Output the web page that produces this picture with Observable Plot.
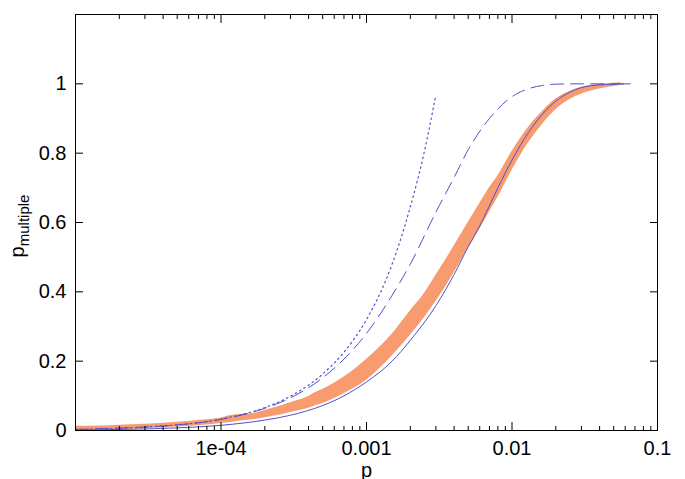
<!DOCTYPE html>
<html>
<head>
<meta charset="utf-8">
<script src="https://cdn.jsdelivr.net/npm/d3@7"></script>
<script src="https://cdn.jsdelivr.net/npm/@observablehq/plot@0.6"></script>
<style>
  html, body { margin: 0; padding: 0; background: white; }
  #chart { width: 685px; height: 479px; }
</style>
</head>
<body>
<div id="chart"></div>
<script>
// ---- tick labels ----
const xMajorTicks = [1e-5, 1e-4, 1e-3, 1e-2, 1e-1];
const xTickLabels = ["", "1e-04", "0.001", "0.01", "0.1"];
const yTicks = [0, 0.2, 0.4, 0.6, 0.8, 1];
const yTickLabels = ["0", "0.2", "0.4", "0.6", "0.8", "1"];

// ---- measured data (orange band: lower / upper edge) ----
const dataP    = [1e-5, 1.5e-5, 2e-5, 3e-5, 5e-5, 7e-5, 1e-4, 1.2e-4, 1.4e-4, 1.7e-4, 2e-4, 2.5e-4, 3e-4, 4e-4, 4.5e-4, 5e-4, 7e-4, 1e-3, 1.5e-3, 2e-3, 2.5e-3, 3e-3, 3.5e-3, 4e-3, 5e-3, 6e-3, 7e-3, 8e-3, 1e-2, 1.3e-2, 1.6e-2, 2e-2, 2.5e-2, 3e-2, 4e-2, 5e-2, 5.6e-2];
const dataLow  = [0.0, 0.001, 0.002, 0.005, 0.010, 0.014, 0.020, 0.024, 0.028, 0.032, 0.037, 0.044, 0.052, 0.064, 0.072, 0.078, 0.106, 0.145, 0.215, 0.275, 0.325, 0.372, 0.415, 0.455, 0.525, 0.58, 0.63, 0.672, 0.75, 0.83, 0.88, 0.925, 0.955, 0.97, 0.985, 0.992, 0.996];
const dataHigh = [0.012, 0.013, 0.015, 0.018, 0.024, 0.029, 0.036, 0.044, 0.047, 0.050, 0.058, 0.069, 0.080, 0.098, 0.110, 0.118, 0.154, 0.205, 0.278, 0.345, 0.395, 0.448, 0.492, 0.532, 0.60, 0.655, 0.70, 0.735, 0.805, 0.875, 0.918, 0.956, 0.978, 0.99, 0.998, 1.002, 1.003];

// ---- solid model curve ----
const solidP = [1e-5, 2e-5, 5e-5, 1e-4, 2e-4, 3e-4, 5e-4, 7e-4, 1e-3, 1.5e-3, 2e-3, 3e-3, 4e-3, 5e-3, 6e-3, 8e-3, 1e-2, 1.3e-2, 1.6e-2, 2e-2, 2.5e-2, 3e-2, 4e-2, 5e-2, 6.5e-2];
const solidY = [0.0015, 0.003, 0.0075, 0.015, 0.03, 0.044, 0.072, 0.10, 0.14, 0.20, 0.26, 0.36, 0.45, 0.53, 0.59, 0.70, 0.78, 0.86, 0.91, 0.95, 0.976, 0.989, 0.997, 0.999, 1.0];

// ---- dashed model curve ----
const dashedP = [1e-5, 2e-5, 5e-5, 1e-4, 2e-4, 3e-4, 5e-4, 7e-4, 1e-3, 1.5e-3, 2e-3, 3e-3, 4e-3, 5e-3, 7e-3, 1e-2, 1.3e-2, 1.6e-2, 2e-2, 3e-2, 6.5e-2];
const dashedY = [0.003, 0.007, 0.016, 0.032, 0.064, 0.094, 0.152, 0.206, 0.28, 0.39, 0.48, 0.63, 0.73, 0.81, 0.90, 0.963, 0.986, 0.995, 0.999, 1.0, 1.0];

// ---- dotted model curve ----
const dottedP = [1e-5, 3e-5, 1e-4, 2e-4, 3e-4, 5e-4, 7e-4, 1e-3, 1.5e-3, 2e-3, 2.5e-3, 2.98e-3];
const dottedY = [0.003, 0.01, 0.033, 0.066, 0.099, 0.163, 0.226, 0.32, 0.48, 0.645, 0.805, 0.963];

// ---- build tables ----
const band = dataP.map((p, i) => ({p, lo: dataLow[i], hi: dataHigh[i]}));
const solid = solidP.map((p, i) => ({p, y: solidY[i]}));
const dashed = dashedP.map((p, i) => ({p, y: dashedY[i]}));
const dotted = dottedP.map((p, i) => ({p, y: dottedY[i]}));

const xMinorTicks = [];
for (let e = -5; e <= -2; e++) for (let k = 2; k <= 9; k++) xMinorTicks.push(k * Math.pow(10, e));

const xLabelMap = new Map(xMajorTicks.map((t, i) => [t, xTickLabels[i]]));
const yLabelMap = new Map(yTicks.map((t, i) => [t, yTickLabels[i]]));

const blue = "#5050cc";
const orange = "#f89c70";
const font = "'Liberation Sans', Arial, Helvetica, sans-serif";

const plot = Plot.plot({
  width: 685,
  height: 479,
  marginLeft: 75,
  marginRight: 28,
  marginTop: 14,
  marginBottom: 49,
  style: {fontFamily: font, fontSize: "20px", background: "white", color: "black"},
  x: {type: "log", domain: [1e-5, 0.1]},
  y: {domain: [0, 1.2]},
  marks: [
    Plot.areaY(band, {x: "p", y1: "lo", y2: "hi", fill: orange, curve: "monotone-x", clip: true}),
    Plot.line(solid, {x: "p", y: "y", stroke: blue, strokeWidth: 1, curve: "monotone-x", clip: true}),
    Plot.line(dashed, {x: "p", y: "y", stroke: blue, strokeWidth: 1, strokeDasharray: "13,7", curve: "monotone-x", clip: true}),
    Plot.line(dotted, {x: "p", y: "y", stroke: blue, strokeWidth: 1.2, strokeDasharray: "1.5,3.5", curve: "monotone-x", clip: true}),
    Plot.frame({stroke: "black", strokeWidth: 1}),
    Plot.axisX(xMajorTicks, {anchor: "bottom", tickSize: -8, tickFormat: () => "", label: null}),
    Plot.axisX(xMajorTicks, {anchor: "top", tickSize: -8, tickFormat: () => "", label: null}),
    Plot.axisX(xMinorTicks, {anchor: "bottom", tickSize: -4, tickFormat: () => "", label: null}),
    Plot.axisX(xMinorTicks, {anchor: "top", tickSize: -4, tickFormat: () => "", label: null}),
    Plot.axisX(xMajorTicks, {anchor: "bottom", tickSize: 0, tickPadding: 10, fontSize: 20,
      tickFormat: d => xLabelMap.get(d), label: "p", labelAnchor: "center", labelOffset: 46, labelArrow: "none"}),
    Plot.axisY(yTicks, {anchor: "left", tickSize: -8, tickFormat: () => "", label: null}),
    Plot.axisY(yTicks, {anchor: "right", tickSize: -8, tickFormat: () => "", label: null}),
    Plot.axisY(yTicks, {anchor: "left", tickSize: 0, tickPadding: 9, fontSize: 20,
      tickFormat: d => yLabelMap.get(d), label: null})
  ]
});

const svg = d3.select(plot);
const yl = svg.append("text")
  .attr("transform", "translate(24,226) rotate(-90)")
  .attr("text-anchor", "middle")
  .attr("font-family", font)
  .attr("font-size", 20)
  .attr("fill", "black");
yl.append("tspan").text("p");
yl.append("tspan").attr("font-size", 15).attr("dy", 5).text("multiple");

document.getElementById("chart").appendChild(plot);
</script>
</body>
</html>
